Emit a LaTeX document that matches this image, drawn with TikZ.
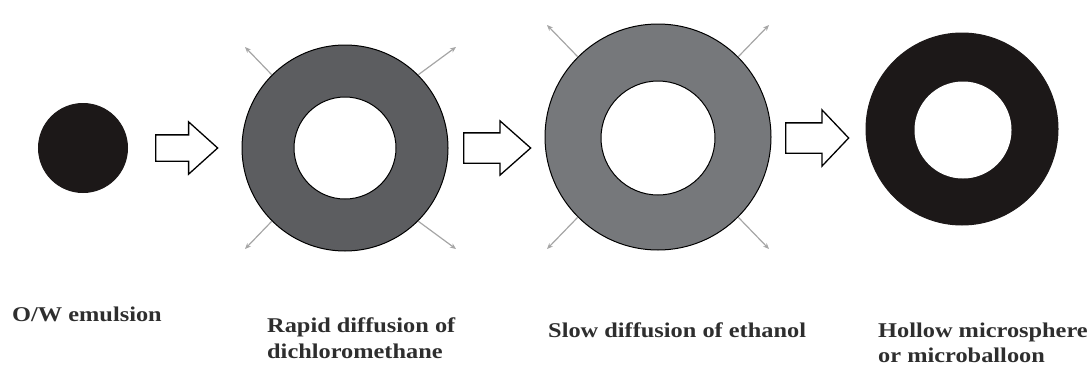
\documentclass[tikz,border=0pt]{standalone}
\usepackage{fontspec}
\setmainfont{Liberation Serif}
\newfontfamily\lblfont{Liberation Serif}[FakeStretch=1.16]
\usetikzlibrary{shapes.arrows,arrows.meta}
\definecolor{dropblack}{HTML}{1C1818}
\definecolor{shellA}{HTML}{5C5D60}
\definecolor{shellB}{HTML}{76787B}
\definecolor{diffgray}{HTML}{A6A6A6}
\definecolor{txtgray}{HTML}{2E2E2E}
\begin{document}
\begin{tikzpicture}[x=1pt,y=-1pt,
  disc/.style={circle,draw=black,line width=1pt,inner sep=0pt},
  hole/.style={circle,draw=black,line width=1pt,fill=white,inner sep=0pt},
  blockarrow/.style={single arrow,draw=black,line width=1.3pt,fill=white,
    inner xsep=0pt,anchor=tail},
  diff/.style={draw=diffgray,line width=1.2pt,-{Stealth[length=6pt,width=5pt]}},
  lbl/.style={font=\lblfont\bfseries\fontsize{21}{25}\selectfont,text=txtgray,inner sep=0pt,anchor=base west}]
\useasboundingbox (0,0) rectangle (1089,370);

% stage 1: O/W emulsion droplet
\node[disc,fill=dropblack,draw=dropblack,minimum size=89pt] (drop) at (83,148) {};

% block arrow 1
\node[blockarrow,minimum height=62pt,inner ysep=12.5pt,single arrow head extend=13pt,
      single arrow tip angle=84] (arr1) at (155,148) {};

% stage 2: rapid diffusion of dichloromethane
\node[disc,fill=shellA,minimum size=206pt] (shell2) at (345,148) {};
\node[hole,minimum size=102pt] (core2) at (345,148) {};
\coordinate (d2ne) at (456,47);
\coordinate (d2nw) at (245,47);
\coordinate (d2sw) at (245,249);
\coordinate (d2se) at (456,249);
\draw[diff] (shell2.45) -- (d2ne);
\draw[diff] (shell2.135) -- (d2nw);
\draw[diff] (shell2.225) -- (d2sw);
\draw[diff] (shell2.315) -- (d2se);

% block arrow 2
\node[blockarrow,minimum height=67pt,inner ysep=14.5pt,single arrow head extend=12pt,
      single arrow tip angle=83] (arr2) at (463,148) {};

% stage 3: slow diffusion of ethanol
\node[disc,fill=shellB,minimum size=226pt] (shell3) at (658,137) {};
\node[hole,minimum size=114pt] (core3) at (658,138) {};
\coordinate (d3ne) at (769,25);
\coordinate (d3nw) at (547,25);
\coordinate (d3sw) at (547,249);
\coordinate (d3se) at (769,249);
\draw[diff] (shell3.45) -- (d3ne);
\draw[diff] (shell3.135) -- (d3nw);
\draw[diff] (shell3.225) -- (d3sw);
\draw[diff] (shell3.315) -- (d3se);

% block arrow 3
\node[blockarrow,minimum height=63pt,inner ysep=14.5pt,single arrow head extend=13pt,
      single arrow tip angle=93] (arr3) at (785,138) {};

% stage 4: hollow microsphere
\node[disc,fill=dropblack,draw=dropblack,minimum size=192pt] (shell4) at (962,129) {};
\node[hole,draw=white,minimum size=96pt] (core4) at (963,130) {};

% labels
\node[lbl] (lab1) at (12,321) {O/W emulsion};
\node[lbl] (lab2a) at (267,332) {Rapid diffusion of};
\node[lbl] (lab2b) at (267,358) {dichloromethane};
\node[lbl] (lab3) at (548,337) {Slow diffusion of ethanol};
\node[lbl] (lab4a) at (878,337) {Hollow microsphere};
\node[lbl] (lab4b) at (878,362) {or microballoon};
\end{tikzpicture}
\end{document}
